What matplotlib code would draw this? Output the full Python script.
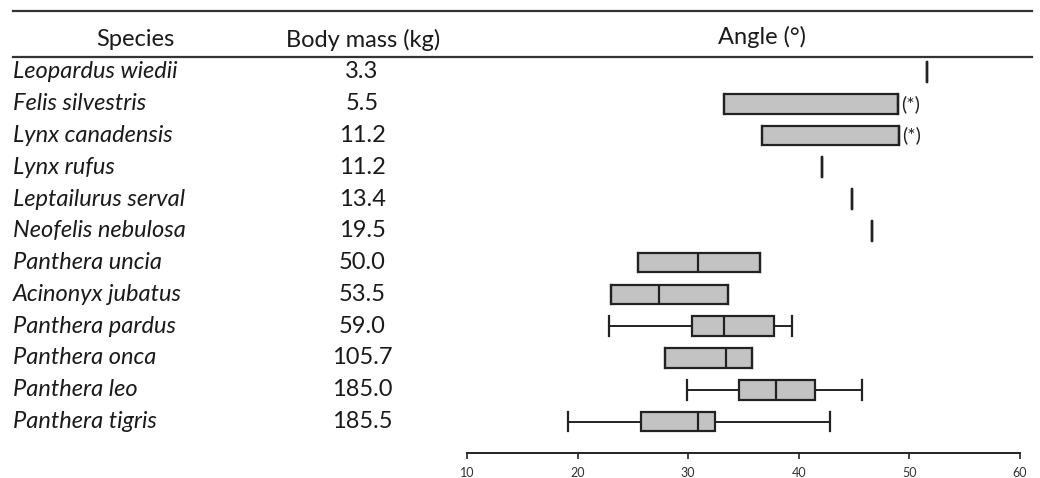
import numpy as np
import matplotlib
matplotlib.use('Agg')
import matplotlib.pyplot as plt
import matplotlib.transforms as mtransforms
from matplotlib.lines import Line2D

plt.rcParams['font.family'] = ['Lato', 'DejaVu Sans']

species = ['Leopardus wiedii', 'Felis silvestris', 'Lynx canadensis', 'Lynx rufus',
           'Leptailurus serval', 'Neofelis nebulosa', 'Panthera uncia', 'Acinonyx jubatus',
           'Panthera pardus', 'Panthera onca', 'Panthera leo', 'Panthera tigris']
body_mass = ['3.3', '5.5', '11.2', '11.2', '13.4', '19.5', '50.0', '53.5', '59.0', '105.7', '185.0', '185.5']

# angle summaries (single-sample species have all values equal)
whislo = [51.6, 33.2, 36.7, 42.1, 44.8, 46.6, 25.5, 23.0, 22.8, 27.9, 29.9, 19.1]
q1     = [51.6, 33.2, 36.7, 42.1, 44.8, 46.6, 25.5, 23.0, 30.3, 27.9, 34.6, 25.7]
med    = [51.6, 49.0, 49.1, 42.1, 44.8, 46.6, 30.9, 27.4, 33.2, 33.4, 37.9, 30.9]
q3     = [51.6, 49.0, 49.1, 42.1, 44.8, 46.6, 36.5, 33.6, 37.8, 35.8, 41.5, 32.4]
whishi = [51.6, 49.0, 49.1, 42.1, 44.8, 46.6, 36.5, 33.6, 39.4, 35.8, 45.7, 42.8]
starred = ['Felis silvestris', 'Lynx canadensis']
xticks = [10, 20, 30, 40, 50, 60]

W, H = 1040, 478
fig = plt.figure(figsize=(W / 100, H / 100), dpi=100)
ax = fig.add_axes([467 / W, (H - 453) / H, (1020 - 467) / W, (453 - 57) / H])

stats = []
for i in range(len(species)):
    stats.append(dict(med=med[i], q1=q1[i], q3=q3[i], whislo=whislo[i], whishi=whishi[i]))
pos = np.arange(len(species))
ax.bxp(stats, positions=pos, vert=False, widths=0.62, capwidths=0.62,
       showfliers=False, patch_artist=True,
       boxprops=dict(facecolor='#c3c3c3', edgecolor='#222222', linewidth=1.6),
       medianprops=dict(color='#222222', linewidth=1.6),
       whiskerprops=dict(color='#222222', linewidth=1.4),
       capprops=dict(color='#222222', linewidth=1.6))

for i, s in enumerate(species):
    if s in starred:
        ax.annotate('(*)', (whishi[i], i), xytext=(2, 0), textcoords='offset points',
                    va='center', ha='left', fontsize=14, color='#222222')

ax.set_xlim(10, 60)
ax.set_ylim(11.99, -0.47)
ax.set_xticks(xticks)
ax.set_yticks([])
for sp in ['top', 'left', 'right']:
    ax.spines[sp].set_visible(False)
ax.spines['bottom'].set_linewidth(1.4)
ax.spines['bottom'].set_color('#222222')
ax.tick_params(axis='x', length=4, width=1.2, color='#222222', labelsize=9, pad=6,
               labelcolor='#333333')
ax.patch.set_visible(False)

# table columns
tr = mtransforms.blended_transform_factory(fig.transFigure, ax.transData)
for i, s in enumerate(species):
    fig.text(13 / W, i, s, transform=tr, style='italic', fontsize=17, va='center', ha='left',
             color='#1a1a1a')
    fig.text(362 / W, i, body_mass[i], transform=tr, fontsize=17, va='center', ha='center',
             color='#1a1a1a')

fig.text(135 / W, 1 - 40 / H, 'Species', fontsize=17, va='center', ha='center', color='#1a1a1a')
fig.text(363 / W, 1 - 40 / H, 'Body mass (kg)', fontsize=17, va='center', ha='center', color='#1a1a1a')
fig.text(762 / W, 1 - 37 / H, 'Angle (°)', fontsize=17, va='center', ha='center', color='#1a1a1a')

for yy in [11, 57]:
    fig.add_artist(Line2D([13 / W, 1032 / W], [1 - yy / H, 1 - yy / H],
                          transform=fig.transFigure, color='#333333', linewidth=1.6))

fig.savefig('out.png', dpi=100)
